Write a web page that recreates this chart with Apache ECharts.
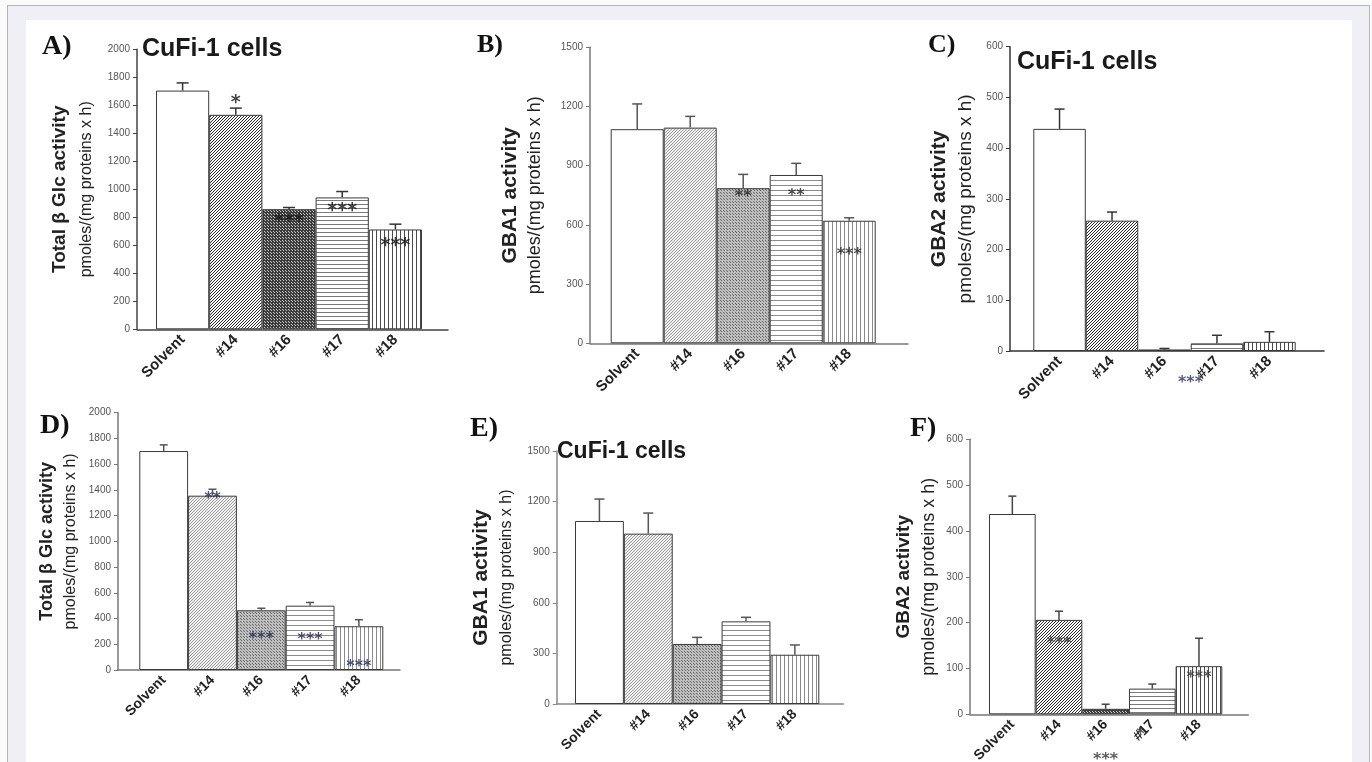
<!DOCTYPE html>
<html>
<head>
<meta charset="utf-8">
<script src="https://cdn.jsdelivr.net/npm/echarts@6/dist/echarts.min.js"></script>
<style>
html,body{margin:0;padding:0;width:1372px;height:762px;overflow:hidden;background:#fbfbfc;}
#outer{position:absolute;left:7px;top:5px;width:1361px;height:800px;border:1px solid #b3b5bb;background:#eef0f5;}
#inner{position:absolute;left:26px;top:20px;width:1326px;height:760px;background:#fff;}
#chart{position:absolute;left:0;top:0;width:1372px;height:762px;}
</style>
</head>
<body>
<div id="outer"></div>
<div id="inner"></div>
<div id="chart"></div>
<script>
// ---------------- DATA ----------------
const categories = ['Solvent', '#14', '#16', '#17', '#18'];
const unitLabel = 'pmoles/(mg proteins x h)';
const cellLabel = 'CuFi-1 cells';

// A) Total beta Glc activity
const valuesA = [1705, 1532, 858, 942, 713];
const errorsA = [55, 48, 12, 42, 38];
const starsA  = ['', '*', '***', '***', '***'];
const starYA  = [null, 1637, 788, 864, 614];
const yMaxA = 2000, yStepA = 200;

// B) GBA1 activity
const valuesB = [1085, 1093, 786, 853, 621];
const errorsB = [128, 57, 70, 59, 15];
const starsB  = ['', '', '**', '**', '***'];
const starYB  = [null, null, 755, 760, 464];
const yMaxB = 1500, yStepB = 300;

// C) GBA2 activity
const valuesC = [438, 257, 3, 15, 18];
const errorsC = [39, 17, 2, 16, 20];
const starsC  = ['', '', '***', '', ''];
const starYC  = [null, null, -57, null, null];
const yMaxC = 600, yStepC = 100;

// D) Total beta Glc activity
const valuesD = [1702, 1355, 464, 500, 340];
const errorsD = [48, 50, 16, 25, 51];
const starsD  = ['', '**', '***', '***', '***'];
const starYD  = [null, 1355, 267, 254, 44];
const yMaxD = 2000, yStepD = 200;

// E) GBA1 activity
const valuesE = [1085, 1010, 356, 490, 292];
const errorsE = [130, 122, 39, 24, 58];
const starsE  = ['', '', '', '', ''];
const starYE  = [null, null, null, null, null];
const yMaxE = 1500, yStepE = 300;

// F) GBA2 activity
const valuesF = [437, 206, 12, 56, 105];
const errorsF = [39, 19, 10, 10, 61];
const starsF  = ['', '***', '***', '*', '***'];
const starYF  = [null, 160, -93, -38, 86];
const yMaxF = 600, yStepF = 100;

const panels = [
  {tag:'A)', title:'Total \u03b2 Glc activity', cufi:true,  values:valuesA, errors:errorsA, stars:starsA, starY:starYA, max:yMaxA, step:yStepA},
  {tag:'B)', title:'GBA1 activity',              cufi:false, values:valuesB, errors:errorsB, stars:starsB, starY:starYB, max:yMaxB, step:yStepB},
  {tag:'C)', title:'GBA2 activity',              cufi:true,  values:valuesC, errors:errorsC, stars:starsC, starY:starYC, max:yMaxC, step:yStepC},
  {tag:'D)', title:'Total \u03b2 Glc activity', cufi:false, values:valuesD, errors:errorsD, stars:starsD, starY:starYD, max:yMaxD, step:yStepD},
  {tag:'E)', title:'GBA1 activity',              cufi:true,  values:valuesE, errors:errorsE, stars:starsE, starY:starYE, max:yMaxE, step:yStepE},
  {tag:'F)', title:'GBA2 activity',              cufi:false, values:valuesF, errors:errorsF, stars:starsF, starY:starYF, max:yMaxF, step:yStepF}
];

// ---------------- STYLE / LAYOUT ----------------
function pat(kind, fg, bg, s, lw) {
  const c = document.createElement('canvas');
  c.width = s; c.height = s;
  const g = c.getContext('2d');
  g.fillStyle = bg; g.fillRect(0, 0, s, s);
  g.strokeStyle = fg; g.fillStyle = fg; g.lineWidth = lw;
  if (kind === 'diag') {
    g.beginPath();
    g.moveTo(0, s); g.lineTo(s, 0);
    g.moveTo(-1, 1); g.lineTo(1, -1);
    g.moveTo(s - 1, s + 1); g.lineTo(s + 1, s - 1);
    g.stroke();
  } else if (kind === 'h') {
    g.fillRect(0, 0, s, lw);
  } else if (kind === 'v') {
    g.fillRect(0, 0, lw, s);
  } else if (kind === 'dot') {
    g.fillRect(0, 0, lw, lw);
    g.fillRect(Math.floor(s / 2), Math.floor(s / 2), lw, lw);
  }
  return {image: c, repeat: 'repeat'};
}
const WHITE = '#ffffff';
const darkPats = () => [WHITE, pat('diag', '#2a2a2a', '#ffffff', 3, 1), pat('dot', '#c8c8c8', '#3c3c3c', 3, 1), pat('h', '#7a7a7a', '#ffffff', 4, 1), pat('v', '#4a4a4a', '#ffffff', 4, 1)];
const lightPats = () => [WHITE, pat('diag', '#9a9a9a', '#f2f2f2', 3, 1), pat('dot', '#6a6a6a', '#bdbdbd', 3, 1), pat('h', '#8c8c8c', '#ffffff', 5, 1), pat('v', '#8a8a8a', '#ffffff', 4, 1)];

const layouts = [
  {tagPos:[42,33], tagSize:28, cufiPos:[142,37], cufiSize:25, frame:[137,49.3,311,280],   barL:156,    barW:266,   t1:19, t2:16, lh1:30, lh2:24, gap:38, xl:15, starSize:19, starColor:'#111', axis:'#444', cap:6, pats:darkPats(),  errColor:'#333', starOff:{}},
  {tagPos:[477,32], tagSize:26, cufiPos:null,     cufiSize:25, frame:[590,47.3,318,296],   barL:610.7,  barW:265,   t1:21, t2:18, lh1:26, lh2:24, gap:43, xl:15, starSize:16, starColor:'#222', axis:'#777', cap:5, pats:lightPats(), errColor:'#555', starOff:{}},
  {tagPos:[928,32], tagSize:26, cufiPos:[1017,50], cufiSize:25, frame:[1010,46.7,314,304.3], barL:1033.3, barW:262.4, t1:21, t2:19, lh1:30, lh2:24, gap:32, xl:15, starSize:16, starColor:'#2a2f5a', axis:'#333', cap:5, pats:darkPats(), errColor:'#333', starOff:{2:[26,3]}},
  {tagPos:[40,412], tagSize:28, cufiPos:null,     cufiSize:23, frame:[118,412.7,282,257.3], barL:139.3,  barW:244,   t1:18, t2:16, lh1:26, lh2:22, gap:36, xl:14, starSize:16, starColor:'#1f2550', axis:'#777', cap:4, pats:lightPats(), errColor:'#555', starOff:{}},
  {tagPos:[470,415], tagSize:28, cufiPos:[557,440], cufiSize:23, frame:[556.7,451,286.6,253], barL:575,   barW:244.3, t1:21, t2:16, lh1:28, lh2:22, gap:39, xl:14, starSize:16, starColor:'#222', axis:'#888', cap:5, pats:lightPats(), errColor:'#555', starOff:{}},
  {tagPos:[910,415], tagSize:28, cufiPos:null,     cufiSize:23, frame:[970,439.3,278.3,275], barL:989,    barW:233.3, t1:19, t2:18, lh1:28, lh2:22, gap:30, xl:14, starSize:16, starColor:'#333', axis:'#777', cap:4, pats:darkPats(),  errColor:'#444', starOff:{3:[-12,3]}}
];

// ---------------- BUILD ----------------
const grids = [], xAxes = [], yAxes = [], series = [], titles = [];

panels.forEach((P, k) => {
  const L = layouts[k];
  const gi = grids.length;
  grids.push({left: L.frame[0], top: L.frame[1], width: L.frame[2], height: L.frame[3], containLabel: false, outerBoundsMode: 'none'});
  grids.push({left: L.barL, top: L.frame[1], width: L.barW, height: L.frame[3], containLabel: false, outerBoundsMode: 'none'});

  xAxes.push({gridIndex: gi, type: 'value', min: 0, max: 1, silent: true,
    axisLine: {show: true, onZero: false, lineStyle: {color: L.axis, width: 1.5}},
    axisTick: {show: false}, axisLabel: {show: false}, splitLine: {show: false}});
  xAxes.push({gridIndex: gi + 1, type: 'category', data: categories,
    axisLine: {show: false}, axisTick: {show: false}, splitLine: {show: false},
    axisLabel: {interval: 0, rotate: 45, margin: 8, fontSize: L.xl, fontWeight: 'bold',
      color: '#222', fontFamily: 'Liberation Sans'}});

  yAxes.push({gridIndex: gi, type: 'value', min: 0, max: P.max, interval: P.step,
    axisLine: {show: true, onZero: false, lineStyle: {color: L.axis, width: 1.5}},
    axisTick: {show: true, length: 4, lineStyle: {color: L.axis, width: 1}},
    axisLabel: {fontSize: 10, color: '#555', margin: 7, fontFamily: 'Liberation Sans',
      formatter: function (v) { return String(v); }},
    splitLine: {show: false},
    name: '{a|' + P.title + '}\n{b|' + unitLabel + '}',
    nameLocation: 'middle', nameRotate: 90, nameGap: L.gap,
    nameTextStyle: {rich: {
      a: {fontSize: L.t1, fontWeight: 'bold', fontFamily: 'Liberation Sans', color: '#222', lineHeight: L.lh1, align: 'center'},
      b: {fontSize: L.t2, fontFamily: 'Liberation Sans', color: '#222', lineHeight: L.lh2, align: 'center'}
    }}});
  yAxes.push({gridIndex: gi + 1, type: 'value', min: 0, max: P.max, interval: P.step, show: false});

  series.push({type: 'bar', xAxisIndex: gi + 1, yAxisIndex: gi + 1, barCategoryGap: '0%', silent: true,
    itemStyle: {borderColor: '#3a3a3a', borderWidth: 1},
    data: P.values.map((v, i) => ({value: v, itemStyle: {color: L.pats[i]}})), z: 2});

  series.push({type: 'custom', xAxisIndex: gi + 1, yAxisIndex: gi + 1, silent: true, z: 3,
    encode: {x: 0, y: 1},
    data: P.values.map((v, i) => [i, v, P.errors[i]]),
    renderItem: function (params, api) {
      const i = api.value(0), v = api.value(1), e = api.value(2);
      const p0 = api.coord([i, v]);
      const p1 = api.coord([i, v + e]);
      const st = {stroke: L.errColor, lineWidth: 1.5};
      return {type: 'group', children: [
        {type: 'line', shape: {x1: p0[0], y1: p0[1], x2: p1[0], y2: p1[1]}, style: st},
        {type: 'line', shape: {x1: p1[0] - L.cap, y1: p1[1], x2: p1[0] + L.cap, y2: p1[1]}, style: st}
      ]};
    }});

  const starData = [];
  P.stars.forEach((s, i) => {
    if (!s) return;
    starData.push({value: [i, P.starY[i]], label: {formatter: s, offset: L.starOff[i] || [0, 3]}});
  });
  series.push({type: 'scatter', xAxisIndex: gi + 1, yAxisIndex: gi + 1, symbolSize: 0, clip: false, silent: true, z: 5,
    data: starData,
    label: {show: true, position: 'inside', fontSize: L.starSize, fontWeight: 'bold',
      fontFamily: 'DejaVu Sans', color: L.starColor}});

  titles.push({text: P.tag, left: L.tagPos[0], top: L.tagPos[1], padding: 0,
    textStyle: {fontFamily: 'Liberation Serif', fontWeight: 'bold', fontSize: L.tagSize, lineHeight: L.tagSize, color: '#111'}});
  if (P.cufi && L.cufiPos) {
    titles.push({text: cellLabel, left: L.cufiPos[0], top: L.cufiPos[1], padding: 0,
      textStyle: {fontFamily: 'Liberation Sans', fontWeight: 'bold', fontSize: L.cufiSize, lineHeight: L.cufiSize, color: '#1a1a1a'}});
  }
});

const chart = echarts.init(document.getElementById('chart'), null, {renderer: 'canvas'});
chart.setOption({
  animation: false,
  backgroundColor: 'transparent',
  title: titles,
  grid: grids,
  xAxis: xAxes,
  yAxis: yAxes,
  series: series
});
</script>
</body>
</html>
